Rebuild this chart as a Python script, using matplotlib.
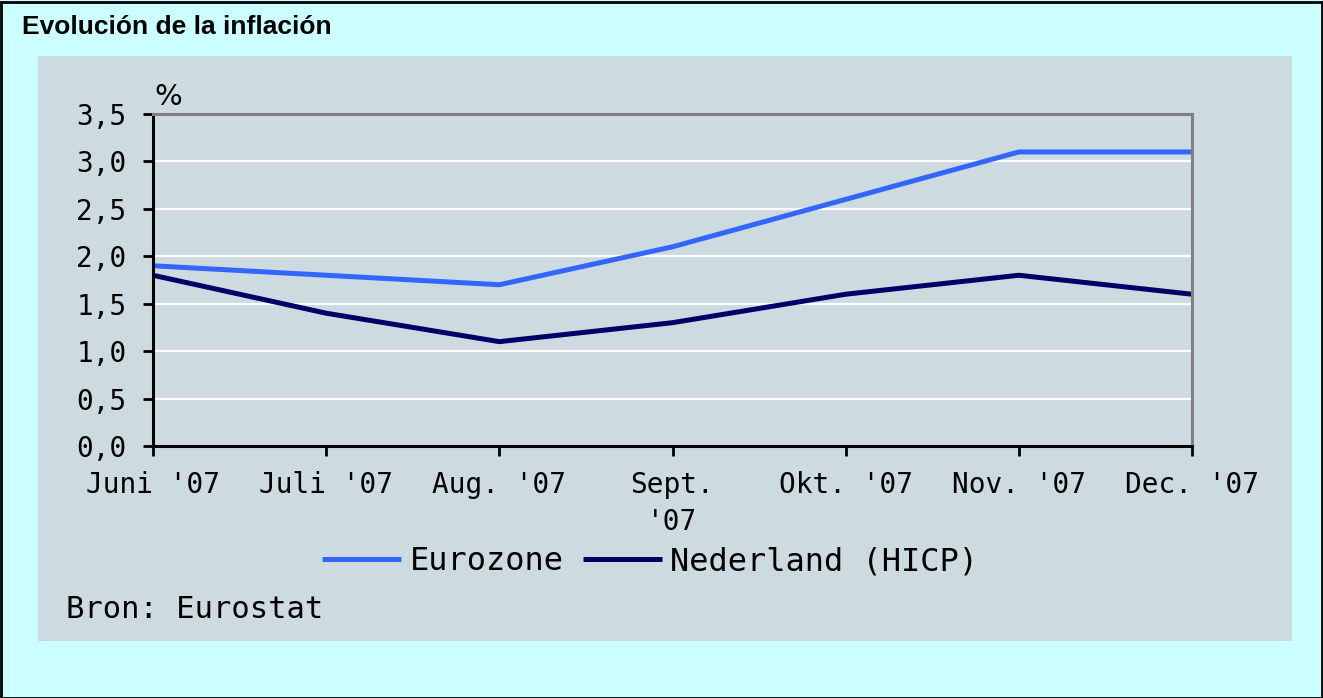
import matplotlib
matplotlib.use("Agg")
import matplotlib.pyplot as plt
from matplotlib.patches import Rectangle

months = ["Juni '07", "Juli '07", "Aug. '07", "Sept.\n'07", "Okt. '07", "Nov. '07", "Dec. '07"]
eurozone = [1.9, 1.8, 1.7, 2.1, 2.6, 3.1, 3.1]
nederland = [1.8, 1.4, 1.1, 1.3, 1.6, 1.8, 1.6]
yticks = [0.0, 0.5, 1.0, 1.5, 2.0, 2.5, 3.0, 3.5]
ytick_labels = ["0,0", "0,5", "1,0", "1,5", "2,0", "2,5", "3,0", "3,5"]

MONO = "DejaVu Sans Mono"
W, H = 1323, 698
fig = plt.figure(figsize=(W / 100, H / 100), dpi=100)
fig.patch.set_facecolor("#CCFFFF")

# outer border
fig.add_artist(Rectangle((0.5 / W, 0.5 / H), 1 - 2 / W, 1 - 2 / H, transform=fig.transFigure,
                         fill=False, edgecolor="black", linewidth=2))
# inner gray panel
fig.add_artist(Rectangle((38 / W, 1 - 641 / H), (1292 - 38) / W, (641 - 56) / H,
                         transform=fig.transFigure, facecolor="#CDDBE0", edgecolor="none", zorder=0))

fig.text(22 / W, 1 - 27 / H, "Evolución de la inflación", fontsize=19, fontweight="bold",
         family="Liberation Sans", va="center", ha="left")

ax = fig.add_axes([153 / W, 1 - 446 / H, (1192 - 153) / W, (446 - 114) / H])
ax.set_facecolor("#CDDBE0")
x = list(range(len(months)))
ax.plot(x, eurozone, color="#3366FF", linewidth=3.6, label="Eurozone", solid_capstyle="butt")
ax.plot(x, nederland, color="#000066", linewidth=3.6, label="Nederland (HICP)", solid_capstyle="butt")

ax.set_xlim(0, len(months) - 1)
ax.set_ylim(0, 3.5)
ax.set_yticks(yticks)
ax.set_yticklabels(ytick_labels)
ax.set_xticks(x)
ax.set_xticklabels(months, linespacing=1.4)
for yv in yticks[1:-1]:
    ax.axhline(yv, color="white", linewidth=1.6, zorder=0.5)

for side in ["left", "bottom"]:
    ax.spines[side].set_color("black")
    ax.spines[side].set_linewidth(2.2)
for side in ["top", "right"]:
    ax.spines[side].set_color("#808080")
    ax.spines[side].set_linewidth(2.2)

ax.tick_params(axis="both", direction="out", length=7, width=2, color="black",
               labelsize=20, labelcolor="black")
ax.tick_params(axis="y", pad=12)
ax.tick_params(axis="x", pad=11)
for lab in ax.get_xticklabels() + ax.get_yticklabels():
    lab.set_family(MONO)

fig.text(168 / W, 1 - 97 / H, "%", fontsize=21, family="DejaVu Sans", ha="center", va="center")

leg = fig.legend(loc="center", bbox_to_anchor=(650 / W, 1 - 562 / H), ncol=2, frameon=False,
                 prop={"family": MONO, "size": 23}, handlelength=2.5, handletextpad=0.25,
                 columnspacing=0.6)

fig.text(66 / W, 1 - 609 / H, "Bron: Eurostat", fontsize=22, family=MONO, ha="left", va="center")

fig.savefig("out.png", dpi=100, facecolor=fig.get_facecolor())
